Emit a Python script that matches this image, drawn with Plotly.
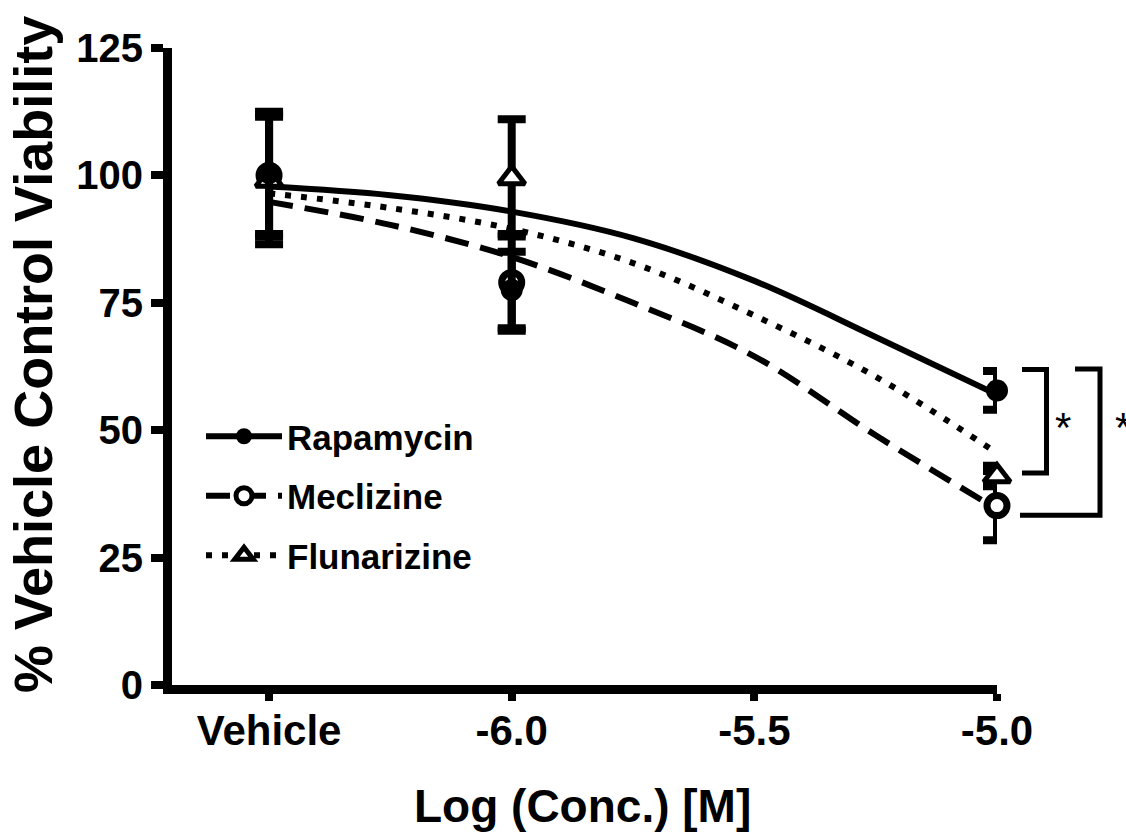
import plotly.graph_objects as go

# ---------------- data ----------------
series_names = ["Rapamycin", "Meclizine", "Flunarizine"]
x_points = [-6.5, -6.0, -5.0]          # Vehicle plotted at -6.5
x_tick_vals = [-6.5, -6.0, -5.5, -5.0]
x_tick_text = ["Vehicle", "-6.0", "-5.5", "-5.0"]
y_tick_vals = [0, 25, 50, 75, 100, 125]

rapamycin_mean = [100.5, 77.5, 57.8]
rapamycin_err = [12.0, 7.5, 3.8]
meclizine_mean = [100.0, 79.0, 35.2]
meclizine_err = [12.0, 9.5, 6.8]
flunarizine_mean = [99.0, 99.5, 41.0]
flunarizine_err = [12.5, 11.5, 2.0]

# fitted curves
curve_x = [-6.5, -6.25, -6.0, -5.75, -5.5, -5.25, -5.0]
rapamycin_fit = [97.8, 96.1, 92.9, 87.7, 79.3, 68.3, 57.0]
meclizine_fit = [94.8, 90.3, 84.0, 75.0, 64.5, 49.0, 34.5]
flunarizine_fit = [96.5, 93.6, 89.5, 82.8, 72.5, 60.5, 45.5]

# significance brackets (data units on y)
bracket_top = [61.9, 62.0]
bracket_bottom = [41.6, 33.3]
bracket_label = ["*", "*"]

X_RANGE = [-6.7, -5.0]
Y_RANGE = [0, 125]

SANS = "Liberation Sans, Arial, sans-serif"

W, H = 1126, 836
M_L, M_R, M_T, M_B = 172, 129, 48, 151
PW = W - M_L - M_R
PH = H - M_T - M_B


def yfrac(v):
    return (v - Y_RANGE[0]) / (Y_RANGE[1] - Y_RANGE[0])


def xpx(px):
    return (px - M_L) / PW


def ypx(py):
    return (H - M_B - py) / PH


fig = go.Figure()

styles = {
    "Rapamycin": dict(dash="solid", symbol="circle", fill="black", msize=22, mline=0),
    "Meclizine": dict(dash="24px,12px", symbol="circle", fill="white", msize=20, mline=7),
    "Flunarizine": dict(dash="6px,10px", symbol="triangle-up", fill="white", msize=23, mline=5),
}
means = {"Rapamycin": rapamycin_mean, "Meclizine": meclizine_mean, "Flunarizine": flunarizine_mean}
errs = {"Rapamycin": rapamycin_err, "Meclizine": meclizine_err, "Flunarizine": flunarizine_err}
fits = {"Rapamycin": rapamycin_fit, "Meclizine": meclizine_fit, "Flunarizine": flunarizine_fit}

# fitted curves
for name in ["Meclizine", "Flunarizine", "Rapamycin"]:
    st = styles[name]
    fig.add_trace(go.Scatter(
        x=curve_x, y=fits[name], mode="lines", line_shape="spline",
        line=dict(color="black", width=6, dash=st["dash"]),
        showlegend=False, hoverinfo="skip"))

# data points with error bars
for name in ["Meclizine", "Flunarizine", "Rapamycin"]:
    st = styles[name]
    fig.add_trace(go.Scatter(
        x=x_points, y=means[name], mode="markers", cliponaxis=False,
        marker=dict(symbol=st["symbol"], size=st["msize"], color=st["fill"],
                    line=dict(color="black", width=st["mline"])),
        error_y=dict(type="data", array=errs[name], visible=True,
                     color="black", thickness=8, width=14),
        showlegend=False))

# legend entries
for name in series_names:
    st = styles[name]
    fig.add_trace(go.Scatter(
        x=[None], y=[None], mode="lines+markers", name=name, legendgroup=name,
        line=dict(color="black", width=6, dash=st["dash"]),
        marker=dict(symbol=st["symbol"], size=st["msize"], color=st["fill"],
                    line=dict(color="black", width=st["mline"]))))

# brackets
bx = [(xpx(1022), xpx(1046.5), xpx(1022)), (xpx(1075), xpx(1100), xpx(1020))]
for (x_top, x_v, x_bot), top, bot in zip(bx, bracket_top, bracket_bottom):
    fig.add_shape(type="path", xref="x domain", yref="y domain",
                  path=f"M {x_top},{yfrac(top)} L {x_v},{yfrac(top)} L {x_v},{yfrac(bot)} L {x_bot},{yfrac(bot)}",
                  line=dict(color="black", width=5))
star_x = [xpx(1063), xpx(1123)]
for sx, lab in zip(star_x, bracket_label):
    fig.add_annotation(x=sx, y=ypx(427), xref="x domain", yref="y domain",
                       text=lab, showarrow=False, font=dict(family=SANS, size=42, color="black"),
                       xanchor="center", yanchor="middle")

# axis titles
fig.add_annotation(x=xpx(33), y=ypx(355), xref="paper", yref="paper",
                   text="% Vehicle Control Viability", textangle=-90, showarrow=False,
                   font=dict(family=SANS, size=54, color="black", weight="bold"),
                   xanchor="center", yanchor="middle")
fig.add_annotation(x=xpx(582), y=ypx(806), xref="paper", yref="paper",
                   text="Log (Conc.) [M]", showarrow=False,
                   font=dict(family=SANS, size=46, color="black", weight="bold"),
                   xanchor="center", yanchor="middle")

fig.update_layout(
    width=W, height=H,
    margin=dict(l=M_L, r=M_R, t=M_T, b=M_B),
    paper_bgcolor="white", plot_bgcolor="white",
    showlegend=True,
    legend=dict(x=xpx(201), y=ypx(407), xanchor="left", yanchor="top",
                bgcolor="rgba(0,0,0,0)", tracegroupgap=11, itemwidth=76,
                font=dict(family=SANS, size=35, color="black", weight="bold")),
    xaxis=dict(range=X_RANGE, tickvals=x_tick_vals, ticktext=x_tick_text,
               showgrid=False, zeroline=False, showline=True, linecolor="black", linewidth=9,
               ticks="outside", ticklen=7, tickwidth=8, tickcolor="black",
               ticklabelstandoff=-6,
               tickfont=dict(family=SANS, size=42, color="black", weight="bold")),
    yaxis=dict(range=Y_RANGE, tickvals=y_tick_vals,
               showgrid=False, zeroline=False, showline=True, linecolor="black", linewidth=9,
               ticks="outside", ticklen=12, tickwidth=8, tickcolor="black",
               tickfont=dict(family=SANS, size=40, color="black", weight="bold")),
)

fig.write_html("out.html", config={"displayModeBar": False},
               post_script="document.body.style.margin='0px';")
